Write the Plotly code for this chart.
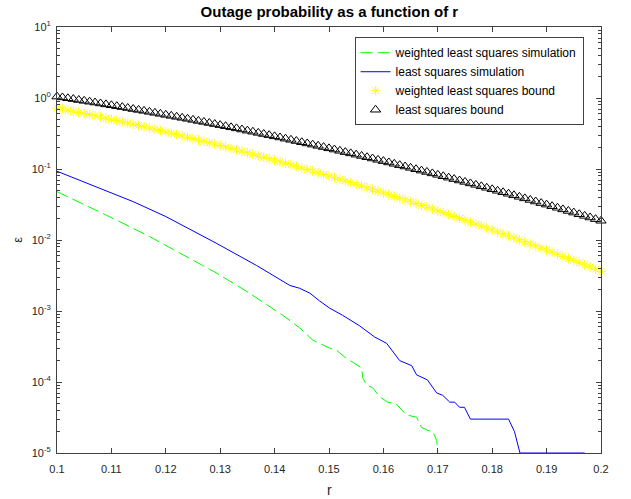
import plotly.graph_objects as go

# ---------------- data ----------------
r_bound = [round(0.1 + 0.001 * k, 3) for k in range(101)]

# log10 of the least-squares bound, one value per r_bound point
ls_bound_log10 = [
    0.020, 0.008, -0.004, -0.015, -0.028, -0.040, -0.052, -0.064, -0.077, -0.090,
    -0.102, -0.115, -0.128, -0.141, -0.155, -0.168, -0.181, -0.195, -0.209, -0.223,
    -0.237, -0.251, -0.265, -0.279, -0.293, -0.308, -0.323, -0.337, -0.352, -0.367,
    -0.382, -0.397, -0.413, -0.428, -0.444, -0.460, -0.475, -0.491, -0.507, -0.523,
    -0.540, -0.556, -0.573, -0.589, -0.606, -0.623, -0.640, -0.657, -0.674, -0.691,
    -0.709, -0.726, -0.744, -0.762, -0.780, -0.798, -0.816, -0.834, -0.852, -0.871,
    -0.889, -0.908, -0.927, -0.946, -0.965, -0.984, -1.004, -1.023, -1.042, -1.062,
    -1.082, -1.102, -1.122, -1.142, -1.162, -1.182, -1.203, -1.223, -1.244, -1.265,
    -1.286, -1.307, -1.328, -1.349, -1.371, -1.392, -1.414, -1.436, -1.458, -1.480,
    -1.502, -1.524, -1.546, -1.569, -1.591, -1.614, -1.637, -1.660, -1.683, -1.706,
    -1.729,
]

# log10 of the weighted least-squares bound
wls_bound_log10 = [
    -0.140, -0.155, -0.171, -0.187, -0.203, -0.219, -0.235, -0.251, -0.268, -0.284,
    -0.301, -0.318, -0.335, -0.352, -0.370, -0.387, -0.405, -0.423, -0.441, -0.459,
    -0.477, -0.496, -0.515, -0.533, -0.552, -0.571, -0.591, -0.610, -0.630, -0.649,
    -0.669, -0.689, -0.709, -0.730, -0.750, -0.771, -0.792, -0.813, -0.834, -0.855,
    -0.876, -0.898, -0.920, -0.941, -0.963, -0.986, -1.008, -1.030, -1.053, -1.076,
    -1.099, -1.122, -1.145, -1.168, -1.192, -1.216, -1.240, -1.264, -1.288, -1.312,
    -1.337, -1.361, -1.386, -1.411, -1.436, -1.461, -1.487, -1.512, -1.538, -1.564,
    -1.590, -1.616, -1.642, -1.669, -1.695, -1.722, -1.749, -1.776, -1.803, -1.831,
    -1.858, -1.886, -1.914, -1.942, -1.970, -1.998, -2.027, -2.055, -2.084, -2.113,
    -2.142, -2.171, -2.200, -2.230, -2.260, -2.290, -2.320, -2.350, -2.380, -2.410,
    -2.441,
]

# least squares simulation (blue)
r_ls_sim = [0.100, 0.105, 0.110, 0.114, 0.120, 0.125, 0.1294, 0.1367, 0.1428, 0.1446,
            0.1465, 0.1483, 0.1501, 0.1525, 0.1556, 0.1584, 0.1606, 0.1630, 0.1652,
            0.1661, 0.1681, 0.1698, 0.1709, 0.1722, 0.1731, 0.1740, 0.1749, 0.1760,
            0.1830, 0.1841, 0.1851, 0.1970]
ls_sim = [0.093, 0.066, 0.0457, 0.0347, 0.0214, 0.0135, 0.0089, 0.00437, 0.00229,
          0.00209, 0.00178, 0.00138, 0.0011, 0.00087, 0.00062, 0.00043, 0.00035,
          0.0002, 0.00017, 0.000126, 0.000107, 7e-05, 6.5e-05, 5.2e-05, 5.2e-05,
          4.4e-05, 4.4e-05, 3e-05, 3e-05, 2e-05, 1e-05, 1e-05]

# weighted least squares simulation (green, dashed)
r_wls_sim = [0.100, 0.1047, 0.1110, 0.1170, 0.1231, 0.1294, 0.1354, 0.1415, 0.1446,
             0.1470, 0.1501, 0.1514, 0.1529, 0.1560, 0.1562, 0.1569, 0.1580, 0.1593,
             0.1608, 0.1624, 0.1634, 0.1645, 0.1661, 0.1670, 0.1680, 0.1691, 0.1698,
             0.1700]
wls_sim = [0.048, 0.0324, 0.019, 0.0112, 0.0062, 0.0034, 0.00178, 0.00087, 0.00058,
           0.00039, 0.0003, 0.00028, 0.000224, 0.000158, 0.000115, 9.1e-05, 8.3e-05,
           6.2e-05, 5.2e-05, 4.9e-05, 4e-05, 3.4e-05, 3.2e-05, 2.3e-05, 2.1e-05,
           2e-05, 1.5e-05, 1e-05]

y_tick_vals = [1e-5, 1e-4, 1e-3, 1e-2, 1e-1, 1e0, 1e1]
y_tick_text = ["10<sup>-5</sup>", "10<sup>-4</sup>", "10<sup>-3</sup>", "10<sup>-2</sup>",
               "10<sup>-1</sup>", "10<sup>0</sup>", "10<sup>1</sup>"]
x_tick_vals = [0.1, 0.11, 0.12, 0.13, 0.14, 0.15, 0.16, 0.17, 0.18, 0.19, 0.2]
x_tick_text = ["0.1", "0.11", "0.12", "0.13", "0.14", "0.15", "0.16", "0.17", "0.18", "0.19", "0.2"]
y_minor_vals = [m * 10.0 ** e for e in range(-5, 1) for m in range(2, 10)]

ls_bound = [10 ** v for v in ls_bound_log10]
wls_bound = [10 ** v for v in wls_bound_log10]

FONT = "Liberation Sans, Arial, Helvetica, sans-serif"
AXC = "#404040"

fig = go.Figure()
fig.add_trace(go.Scatter(x=r_wls_sim, y=wls_sim, mode="lines",
                         name="weighted least squares simulation",
                         line=dict(color="#00ff00", width=1, dash="12px,5px")))
fig.add_trace(go.Scatter(x=r_ls_sim, y=ls_sim, mode="lines",
                         name="least squares simulation",
                         line=dict(color="#0000ff", width=1)))
fig.add_trace(go.Scatter(x=r_bound, y=wls_bound, mode="markers",
                         name="weighted least squares bound", cliponaxis=False,
                         marker=dict(symbol="asterisk-open", size=8, color="#ffff00",
                                     line=dict(color="#ffff00", width=1))))
fig.add_trace(go.Scatter(x=r_bound, y=ls_bound, mode="markers",
                         name="least squares bound", cliponaxis=False,
                         marker=dict(symbol="triangle-up-open", size=9, color="#000000",
                                     line=dict(color="#000000", width=1))))

fig.update_layout(
    width=631, height=499,
    margin=dict(l=57, r=30, t=27, b=46),
    paper_bgcolor="white", plot_bgcolor="white",
    font=dict(family=FONT, size=11, color="#262626"),
    title=dict(text="<b>Outage probability as a function of r</b>", x=0.522, xanchor="center",
               y=0.976, yanchor="middle", font=dict(size=15, color="#000000", family=FONT)),
    showlegend=True,
    legend=dict(x=0.547, y=0.976, xanchor="left", yanchor="top",
                bgcolor="white", bordercolor=AXC, borderwidth=1,
                font=dict(size=12, color="#000000", family=FONT),
                tracegroupgap=0, itemwidth=30),
    annotations=[
        dict(text="r", x=0.5, y=-0.087, xref="paper", yref="paper", showarrow=False,
             font=dict(size=14, color="#262626", family=FONT), yanchor="middle"),
        dict(text="ε", x=-0.074, y=0.5, xref="paper", yref="paper", showarrow=False,
             textangle=-90, font=dict(size=13, color="#262626", family=FONT),
             xanchor="center", yanchor="middle"),
    ],
)
fig.update_xaxes(range=[0.1, 0.2], tickvals=x_tick_vals, ticktext=x_tick_text,
                 ticks="inside", ticklen=5, tickcolor=AXC, showline=True, linecolor=AXC,
                 linewidth=1, mirror="ticks", showgrid=False, zeroline=False,
                 ticklabelstandoff=6,
                 tickfont=dict(size=11, color="#262626"))
fig.update_yaxes(type="log", range=[-5, 1], tickvals=y_tick_vals, ticktext=y_tick_text,
                 ticks="inside", ticklen=5, tickcolor=AXC, showline=True, linecolor=AXC,
                 linewidth=1, mirror="ticks", showgrid=False, zeroline=False,
                 ticklabelstandoff=3,
                 tickfont=dict(size=11, color="#262626"),
                 minor=dict(tickmode="array", tickvals=y_minor_vals, ticks="inside",
                            ticklen=3, tickcolor=AXC, showgrid=False))

fig.write_html("out.html", config={"displayModeBar": False},
               post_script="document.body.style.margin='0';document.body.style.overflow='hidden';")
